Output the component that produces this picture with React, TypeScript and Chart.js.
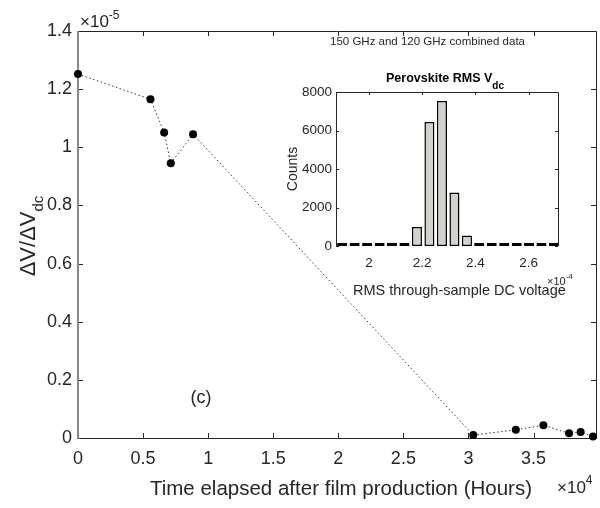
import React, { useEffect, useRef } from "react";
import { Chart, registerables } from "chart.js";

Chart.register(...registerables);

// Main plot data: time in units of 1e4 hours, ratio in units of 1e-5
const timeHours = [0, 0.557, 0.662, 0.713, 0.884, 3.037, 3.364, 3.576, 3.773, 3.862, 3.957];
const dvRatio = [1.252, 1.165, 1.051, 0.945, 1.045, 0.01, 0.028, 0.044, 0.016, 0.021, 0.005];
const mainXTicks = [0, 0.5, 1, 1.5, 2, 2.5, 3, 3.5];
const mainYTicks = [0, 0.2, 0.4, 0.6, 0.8, 1, 1.2, 1.4];

// Inset histogram: bin centers in units of 1e-4 V
const binCenters = [
  1.899, 1.946, 1.993, 2.04, 2.086, 2.133, 2.18, 2.227, 2.274, 2.321, 2.368, 2.414, 2.461, 2.508,
  2.555, 2.601, 2.648, 2.695,
];
const binCounts = [0, 0, 0, 0, 0, 0, 985, 6440, 7530, 2780, 550, 140, 40, 30, 20, 0, 0, 0];
const insetXTicks = [2, 2.2, 2.4, 2.6];
const insetYTicks = [0, 2000, 4000, 6000, 8000];

const FONT = "'Liberation Sans', Arial, sans-serif";
const TXT = "#262626";

type Part = { text: string; font: string; dy: number };

function drawParts(ctx: CanvasRenderingContext2D, parts: Part[], x: number, y: number, align: string) {
  let total = 0;
  const widths: number[] = [];
  for (const p of parts) {
    ctx.font = p.font;
    const w = ctx.measureText(p.text).width;
    widths.push(w);
    total += w;
  }
  let cx = align === "center" ? x - total / 2 : align === "right" ? x - total : x;
  ctx.textAlign = "left";
  ctx.textBaseline = "alphabetic";
  parts.forEach((p, i) => {
    ctx.font = p.font;
    ctx.fillText(p.text, cx, y + p.dy);
    cx += widths[i];
  });
}

const mainDecor = {
  id: "mainDecor",
  beforeDatasetsDraw(chart: any) {
    const { ctx, chartArea } = chart;
    const { left, right, top, bottom } = chartArea;
    const xs = chart.scales.x;
    const ys = chart.scales.y;
    ctx.save();
    ctx.strokeStyle = TXT;
    ctx.lineWidth = 1;
    const L = 5;
    ctx.beginPath();
    for (const v of mainXTicks) {
      const px = Math.round(xs.getPixelForValue(v)) + 0.5;
      ctx.moveTo(px, bottom);
      ctx.lineTo(px, bottom - L);
      ctx.moveTo(px, top);
      ctx.lineTo(px, top + L);
    }
    for (const v of mainYTicks) {
      const py = Math.round(ys.getPixelForValue(v)) + 0.5;
      ctx.moveTo(left, py);
      ctx.lineTo(left + L, py);
      ctx.moveTo(right, py);
      ctx.lineTo(right - L, py);
    }
    ctx.stroke();
    // box: top, right, bottom
    ctx.beginPath();
    ctx.moveTo(left, top + 0.5);
    ctx.lineTo(right + 0.5, top + 0.5);
    ctx.lineTo(right + 0.5, bottom + 0.5);
    ctx.lineTo(left, bottom + 0.5);
    ctx.stroke();
    // left axis line gray, thicker
    ctx.strokeStyle = "#8a8a8a";
    ctx.lineWidth = 2;
    ctx.beginPath();
    ctx.moveTo(left, top);
    ctx.lineTo(left, bottom + 1);
    ctx.stroke();
    ctx.restore();
  },
  afterDraw(chart: any) {
    const { ctx } = chart;
    ctx.save();
    ctx.fillStyle = TXT;
    // exponent labels
    drawParts(ctx, [
      { text: "\u00d710", font: `17px ${FONT}`, dy: 0 },
      { text: "-5", font: `12px ${FONT}`, dy: -8 },
    ], 80, 27, "left");
    drawParts(ctx, [
      { text: "\u00d710", font: `17px ${FONT}`, dy: 0 },
      { text: "4", font: `12px ${FONT}`, dy: -9 },
    ], 557, 493, "left");
    // x title
    drawParts(ctx, [{ text: "Time elapsed after film production (Hours)", font: `20.5px ${FONT}`, dy: 0 }], 341, 495, "center");
    // y title rotated
    ctx.save();
    ctx.translate(35, 236);
    ctx.rotate(-Math.PI / 2);
    drawParts(ctx, [
      { text: "\u0394V/\u0394V", font: `22px ${FONT}`, dy: 0 },
      { text: "dc", font: `15px ${FONT}`, dy: 8 },
    ], 0, 0, "center");
    ctx.restore();
    // (c)
    drawParts(ctx, [{ text: "(c)", font: `18px ${FONT}`, dy: 0 }], 201, 403, "center");
    // inset note
    drawParts(ctx, [{ text: "150 GHz and 120 GHz combined data", font: `11.5px ${FONT}`, dy: 0 }], 330, 45, "left");
    ctx.restore();
  },
};

const insetDecor = {
  id: "insetDecor",
  beforeDatasetsDraw(chart: any) {
    const { ctx, chartArea } = chart;
    const { left, right, top, bottom } = chartArea;
    const xs = chart.scales.x;
    const ys = chart.scales.y;
    ctx.save();
    ctx.strokeStyle = TXT;
    ctx.lineWidth = 1;
    const L = 3;
    ctx.beginPath();
    for (const v of insetXTicks) {
      const px = Math.round(xs.getPixelForValue(v)) + 0.5;
      ctx.moveTo(px, top);
      ctx.lineTo(px, top + L);
    }
    for (const v of insetYTicks) {
      const py = Math.round(ys.getPixelForValue(v)) + 0.5;
      ctx.moveTo(left, py);
      ctx.lineTo(left + L, py);
      ctx.moveTo(right, py);
      ctx.lineTo(right - L, py);
    }
    ctx.stroke();
    ctx.beginPath();
    ctx.moveTo(left + 0.5, bottom);
    ctx.lineTo(left + 0.5, top + 0.5);
    ctx.lineTo(right + 0.5, top + 0.5);
    ctx.lineTo(right + 0.5, bottom);
    ctx.stroke();
    ctx.restore();
  },
  afterDraw(chart: any) {
    const { ctx } = chart;
    ctx.save();
    ctx.fillStyle = "#000";
    drawParts(ctx, [
      { text: "Perovskite RMS V", font: `bold 12.5px ${FONT}`, dy: 0 },
      { text: "dc", font: `bold 10px ${FONT}`, dy: 7 },
    ], 445, 82, "center");
    ctx.fillStyle = TXT;
    ctx.save();
    ctx.translate(297, 169);
    ctx.rotate(-Math.PI / 2);
    drawParts(ctx, [{ text: "Counts", font: `14px ${FONT}`, dy: 0 }], 0, 0, "center");
    ctx.restore();
    drawParts(ctx, [
      { text: "\u00d710", font: `11px ${FONT}`, dy: 0 },
      { text: "-4", font: `8px ${FONT}`, dy: -6 },
    ], 547, 285, "left");
    drawParts(ctx, [{ text: "RMS through-sample DC voltage", font: `14.5px ${FONT}`, dy: 0 }], 353, 295, "left");
    ctx.restore();
  },
};

function fmt(v: number) {
  return String(Number(v.toFixed(2)));
}

export default function App() {
  const mainRef = useRef<HTMLCanvasElement>(null);
  const insetRef = useRef<HTMLCanvasElement>(null);

  useEffect(() => {
    const main = new Chart(mainRef.current as HTMLCanvasElement, {
      type: "line",
      data: {
        datasets: [
          {
            data: timeHours.map((t, i) => ({ x: t, y: dvRatio[i] })),
            borderColor: "#333",
            borderWidth: 1,
            borderDash: [1.5, 2.5],
            pointRadius: 4,
            pointBackgroundColor: "#000",
            pointBorderWidth: 0,
            pointBorderColor: "#000",
            clip: false as any,
            tension: 0,
          },
        ],
      },
      options: {
        responsive: false,
        animation: false,
        events: [],
        layout: { padding: { top: 31, right: 3, left: 0, bottom: 0 } },
        plugins: { legend: { display: false }, tooltip: { enabled: false }, title: { display: false } },
        scales: {
          x: {
            type: "linear",
            min: 0,
            max: 3.98,
            grid: { display: false, drawTicks: false },
            border: { display: false },
            afterBuildTicks: (s: any) => {
              s.ticks = mainXTicks.map((v) => ({ value: v }));
            },
            afterFit: (s: any) => {
              s.height = 70;
            },
            ticks: {
              autoSkip: false,
              maxRotation: 0,
              padding: 10,
              color: TXT,
              font: { family: FONT, size: 18 },
              callback: (v: any) => fmt(Number(v)),
            },
          },
          y: {
            type: "linear",
            min: 0,
            max: 1.4,
            grid: { display: false, drawTicks: false },
            border: { display: false },
            afterBuildTicks: (s: any) => {
              s.ticks = mainYTicks.map((v) => ({ value: v }));
            },
            afterFit: (s: any) => {
              s.width = 78;
            },
            ticks: {
              autoSkip: false,
              padding: 6,
              color: TXT,
              font: { family: FONT, size: 18 },
              callback: (v: any) => fmt(Number(v)),
            },
          },
        },
      },
      plugins: [mainDecor],
    });

    const inset = new Chart(insetRef.current as HTMLCanvasElement, {
      type: "bar",
      data: {
        datasets: [
          {
            data: binCenters.map((c, i) => ({ x: c, y: binCounts[i] })),
            backgroundColor: "#d3d1cc",
            borderColor: "#000",
            borderWidth: 1.5,
            borderSkipped: false,
            minBarLength: 3,
            barPercentage: 0.82,
            categoryPercentage: 1,
          } as any,
        ],
      },
      options: {
        responsive: false,
        animation: false,
        events: [],
        layout: { padding: { top: 92, right: 42, left: 296, bottom: 232 } },
        plugins: { legend: { display: false }, tooltip: { enabled: false }, title: { display: false } },
        scales: {
          x: {
            type: "linear",
            offset: false,
            min: 1.876,
            max: 2.71,
            grid: { display: false, drawTicks: false },
            border: { display: false },
            afterBuildTicks: (s: any) => {
              s.ticks = insetXTicks.map((v) => ({ value: v }));
            },
            afterFit: (s: any) => {
              s.height = 30;
            },
            ticks: {
              autoSkip: false,
              maxRotation: 0,
              padding: 9,
              color: TXT,
              font: { family: FONT, size: 13.5 },
              callback: (v: any) => fmt(Number(v)),
            },
          },
          y: {
            type: "linear",
            min: 0,
            max: 8000,
            grid: { display: false, drawTicks: false },
            border: { display: false },
            afterBuildTicks: (s: any) => {
              s.ticks = insetYTicks.map((v) => ({ value: v }));
            },
            afterFit: (s: any) => {
              s.width = 40;
            },
            ticks: {
              autoSkip: false,
              padding: 4,
              color: TXT,
              font: { family: FONT, size: 13.5 },
              callback: (v: any) => String(v),
            },
          },
        },
      },
      plugins: [insetDecor],
    });

    return () => {
      main.destroy();
      inset.destroy();
    };
  }, []);

  return (
    <div style={{ position: "absolute", left: 0, top: 0, width: 600, height: 508, background: "#fff" }}>
      <canvas ref={mainRef} width={600} height={508} style={{ position: "absolute", left: 0, top: 0, display: "block" }} />
      <canvas ref={insetRef} width={600} height={508} style={{ position: "absolute", left: 0, top: 0, display: "block" }} />
    </div>
  );
}
